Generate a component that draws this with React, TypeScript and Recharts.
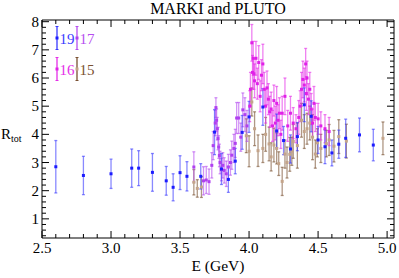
import React from 'react';
import {
  ScatterChart,
  Scatter,
  XAxis,
  YAxis,
  ErrorBar,
  Legend,
} from 'recharts';

// [E (GeV), R, error]
const set19: [number, number, number][] = [
  [2.6, 2.85, 0.93], [2.8, 2.54, 0.68], [3.0, 2.6, 0.52], [3.15, 2.8, 0.68],
  [3.2, 2.8, 0.62], [3.3, 2.65, 0.67], [3.4, 2.35, 0.51], [3.45, 2.12, 0.48],
  [3.5, 2.64, 0.6], [3.55, 2.51, 0.52], [3.65, 2.51, 0.45], [3.75, 4.08, 0.8],
  [3.8, 2.77, 0.55], [3.85, 2.4, 0.46], [3.9, 3.05, 0.45], [3.95, 4.07, 0.6],
  [4.0, 4.62, 0.55], [4.1, 4.97, 0.65], [4.2, 4.12, 0.6], [4.25, 3.78, 0.5],
  [4.3, 3.48, 0.5], [4.35, 3.92, 0.5], [4.4, 5.05, 0.6], [4.45, 4.64, 0.55],
  [4.5, 3.8, 0.48], [4.55, 3.56, 0.6], [4.6, 3.34, 0.46], [4.65, 3.65, 0.5],
  [4.7, 3.86, 0.68], [4.8, 3.98, 0.6], [4.9, 3.62, 0.56],
];

const set17: [number, number, number][] = [
  [3.6, 2.84, 0.54], [3.67, 2.35, 0.5], [3.69, 2.38, 0.48], [3.71, 2.32, 0.45],
  [3.73, 2.9, 0.45], [3.74, 3.6, 0.5], [3.755, 4.4, 0.45], [3.76, 4.95, 0.35],
  [3.765, 4.5, 0.4], [3.77, 4.2, 0.4], [3.775, 3.85, 0.4], [3.78, 3.55, 0.4],
  [3.785, 3.25, 0.4], [3.79, 3.0, 0.4], [3.8, 2.75, 0.4], [3.81, 2.9, 0.45],
  [3.82, 2.72, 0.45], [3.835, 2.6, 0.45], [3.85, 2.84, 0.45], [3.865, 3.0, 0.45],
  [3.875, 3.26, 0.5], [3.89, 3.5, 0.5], [3.9, 3.68, 0.5], [3.91, 4.58, 0.55],
  [3.925, 4.58, 0.55], [3.94, 3.9, 0.5], [3.955, 4.87, 0.6], [3.97, 4.7, 0.6],
  [3.985, 4.3, 0.55],
];

const set16: [number, number, number][] = [
  [4.005, 5.0, 0.55], [4.01, 5.6, 0.6], [4.02, 7.25, 0.65], [4.025, 6.2, 0.6],
  [4.03, 6.7, 0.6], [4.035, 6.15, 0.55], [4.04, 5.9, 0.6], [4.05, 6.7, 0.6],
  [4.06, 5.8, 0.55], [4.07, 6.55, 0.6], [4.08, 5.35, 0.55], [4.09, 6.1, 0.55],
  [4.1, 6.5, 0.7], [4.11, 5.6, 0.6], [4.12, 5.0, 0.6], [4.13, 5.65, 0.6],
  [4.14, 5.25, 0.55], [4.15, 4.8, 0.55], [4.16, 4.9, 0.6], [4.17, 4.3, 0.55],
  [4.18, 5.2, 0.55], [4.19, 4.4, 0.6], [4.2, 5.1, 0.6], [4.21, 4.5, 0.55],
  [4.22, 4.75, 0.55], [4.23, 4.0, 0.5], [4.24, 4.75, 0.6], [4.26, 5.35, 0.65],
  [4.28, 4.3, 0.55], [4.3, 4.75, 0.6], [4.32, 4.4, 0.55], [4.34, 4.2, 0.5],
  [4.36, 4.6, 0.6], [4.37, 5.0, 0.55], [4.38, 5.6, 0.6], [4.39, 5.95, 0.65],
  [4.4, 5.75, 0.6], [4.41, 6.5, 0.55], [4.415, 5.45, 0.6], [4.42, 6.0, 0.6],
  [4.43, 5.25, 0.55], [4.44, 5.6, 0.6], [4.45, 4.9, 0.55], [4.46, 4.4, 0.5],
  [4.47, 5.1, 0.6], [4.48, 4.6, 0.5], [4.5, 4.55, 0.55], [4.52, 4.3, 0.5],
  [4.55, 4.2, 0.5], [4.58, 4.1, 0.5],
];

const set15: [number, number, number][] = [
  [3.6, 2.3, 0.45], [3.625, 2.08, 0.31], [3.655, 2.13, 0.37], [3.98, 3.95, 0.6],
  [4.0, 3.4, 0.55], [4.02, 5.15, 0.5], [4.04, 4.2, 0.6], [4.065, 3.42, 0.56],
  [4.1, 3.5, 0.5], [4.12, 4.0, 0.6], [4.145, 3.66, 0.6], [4.16, 3.2, 0.5],
  [4.18, 3.62, 0.6], [4.2, 3.5, 0.55], [4.215, 2.96, 0.42], [4.24, 2.33, 0.5],
  [4.26, 3.3, 0.5], [4.275, 3.0, 0.55], [4.295, 3.29, 0.6], [4.31, 3.4, 0.5],
  [4.32, 3.75, 0.6], [4.35, 3.6, 0.8], [4.38, 4.5, 0.6], [4.4, 4.1, 0.6],
  [4.42, 4.2, 0.55], [4.44, 4.4, 0.6], [4.46, 3.9, 0.8], [4.48, 3.3, 0.5],
  [4.495, 3.7, 0.5], [4.52, 3.5, 0.5], [4.56, 3.67, 0.47], [4.58, 3.8, 0.55],
  [4.615, 3.58, 0.56], [4.65, 3.92, 0.6], [4.705, 3.76, 0.6], [4.97, 3.86, 0.58],
];

const xMajor = [2.5, 3.0, 3.5, 4.0, 4.5, 5.0];
const yMajor = [1, 2, 3, 4, 5, 6, 7, 8];

const xTicks: number[] = [];
for (let i = 0; i <= 25; i++) xTicks.push(Math.round((2.5 + i * 0.1) * 100) / 100);
const yTicks: number[] = [];
for (let i = 0; i <= 38; i++) yTicks.push(Math.round((0.4 + i * 0.2) * 100) / 100);

const FONT = 'Liberation Serif';
const X_DOMAIN = [2.5, 5.05];
const Y_DOMAIN = [0.32, 8.06];

// brown set is bound to the top/right axes so the mirrored frame gets drawn
const series = [
  { name: '15', data: set15, color: '#7a5132', mark: '#c4a48a', xId: 'top', yId: 'right' },
  { name: '16', data: set16, color: '#e52ee8', mark: '#e020e8', xId: 0, yId: 0 },
  { name: '17', data: set17, color: '#b64ef0', mark: '#b040f0', xId: 0, yId: 0 },
  { name: '19', data: set19, color: '#3a3aff', mark: '#1c1cff', xId: 0, yId: 0 },
];

const toRows = (d: [number, number, number][]) =>
  d.map(([e, r, err]) => ({ e, r, err }));

const isMajor = (v: number, list: number[]) => list.some((m) => Math.abs(m - v) < 1e-6);

const BottomTick = (props: any) => {
  const { x, y, payload } = props;
  const major = isMajor(payload.value, xMajor);
  return (
    <g>
      <line x1={x} y1={y} x2={x} y2={y - (major ? 7 : 4)} stroke="#000" />
      {major && (
        <text x={x} y={y + 15} textAnchor="middle" fontSize={15} fontFamily={FONT} fill="#000">
          {payload.value.toFixed(1)}
        </text>
      )}
    </g>
  );
};

const TopTick = (props: any) => {
  const { x, y, payload } = props;
  const major = isMajor(payload.value, xMajor);
  return <line x1={x} y1={y} x2={x} y2={y + (major ? 7 : 4)} stroke="#000" />;
};

const LeftTick = (props: any) => {
  const { x, y, payload } = props;
  const major = isMajor(payload.value, yMajor);
  return (
    <g>
      <line x1={x} y1={y} x2={x + (major ? 7 : 4)} y2={y} stroke="#000" />
      {major && (
        <text x={x - 3} y={y + 5} textAnchor="end" fontSize={15} fontFamily={FONT} fill="#000">
          {payload.value}
        </text>
      )}
    </g>
  );
};

const RightTick = (props: any) => {
  const { x, y, payload } = props;
  const major = isMajor(payload.value, yMajor);
  return <line x1={x} y1={y} x2={x - (major ? 7 : 4)} y2={y} stroke="#000" />;
};

const square = (fill: string) => (props: any) => (
  <rect x={props.cx - 1.5} y={props.cy - 1.5} width={3} height={3} fill={fill} />
);

const yLabel = () => (
  <text x={1} y={139} fontFamily={FONT} fill="#000">
    <tspan fontSize={15}>R</tspan>
    <tspan fontSize={10} dy={3}>tot</tspan>
  </text>
);

const titleLabel = () => (
  <text x={218} y={14} textAnchor="middle" fontSize={16} fontFamily={FONT} fill="#000">
    MARKI and PLUTO
  </text>
);

const xLabel = () => (
  <text x={218} y={271} textAnchor="middle" fontSize={15.5} fontFamily={FONT} fill="#000">
    E (GeV)
  </text>
);

const legendItems = [
  { name: '19', x: 57, y: 38, color: '#3a3aff', mark: '#1c1cff' },
  { name: '17', x: 77, y: 38, color: '#b64ef0', mark: '#b040f0' },
  { name: '16', x: 57, y: 69, color: '#e52ee8', mark: '#e020e8' },
  { name: '15', x: 77, y: 69, color: '#7a5132', mark: '#c4a48a' },
];

const renderLegend = () => (
  <svg width={110} height={90} style={{ display: 'block' }}>
    {legendItems.map((it) => (
      <g key={it.name}>
        <line x1={it.x} y1={it.y - 11.5} x2={it.x} y2={it.y + 11.5} stroke={it.color} strokeWidth={1.3} />
        <line x1={it.x - 1.5} y1={it.y - 11.5} x2={it.x + 1.5} y2={it.y - 11.5} stroke={it.color} />
        <line x1={it.x - 1.5} y1={it.y + 11.5} x2={it.x + 1.5} y2={it.y + 11.5} stroke={it.color} />
        <rect x={it.x - 1.5} y={it.y - 1.5} width={3} height={3} fill={it.mark} />
        <text x={it.x + 2.5} y={it.y + 5.5} fontSize={15} fontFamily={FONT} fill={it.color}>
          {it.name}
        </text>
      </g>
    ))}
  </svg>
);

export default function App() {
  return (
    <div style={{ position: 'absolute', left: 0, top: 0, background: '#fff' }}>
      <ScatterChart width={399} height={278} margin={{ top: 19, right: 4, bottom: 0, left: 0 }}>
        <XAxis
          dataKey="e"
          type="number"
          domain={X_DOMAIN}
          allowDataOverflow
          ticks={xTicks}
          interval={0}
          tick={<BottomTick />}
          tickLine={false}
          tickSize={0}
          tickMargin={0}
          height={40}
          stroke="#000"
          label={xLabel}
        />
        <XAxis
          xAxisId="top"
          dataKey="e"
          orientation="top"
          type="number"
          domain={X_DOMAIN}
          allowDataOverflow
          ticks={xTicks}
          interval={0}
          tick={<TopTick />}
          tickLine={false}
          tickSize={0}
          tickMargin={0}
          height={1}
          stroke="#000"
          label={titleLabel}
        />
        <YAxis
          dataKey="r"
          type="number"
          domain={Y_DOMAIN}
          allowDataOverflow
          ticks={yTicks}
          interval={0}
          tick={<LeftTick />}
          tickLine={false}
          tickSize={0}
          tickMargin={0}
          width={42}
          stroke="#000"
          label={yLabel}
        />
        <YAxis
          yAxisId="right"
          dataKey="r"
          orientation="right"
          type="number"
          domain={Y_DOMAIN}
          allowDataOverflow
          ticks={yTicks}
          interval={0}
          tick={<RightTick />}
          tickLine={false}
          tickSize={0}
          tickMargin={0}
          width={1}
          stroke="#000"
        />
        <Legend
          layout="vertical"
          align="center"
          verticalAlign="middle"
          content={renderLegend}
          wrapperStyle={{ left: 0, top: 0, width: 110, height: 90 }}
        />
        {series.map((s) => (
          <Scatter
            key={s.name}
            name={s.name}
            data={toRows(s.data)}
            xAxisId={s.xId}
            yAxisId={s.yId}
            fill={s.mark}
            shape={square(s.mark)}
            isAnimationActive={false}
          >
            <ErrorBar
              dataKey="err"
              direction="y"
              width={1.5}
              stroke={s.color}
              strokeWidth={1.3}
              strokeOpacity={0.6}
              isAnimationActive={false}
            />
          </Scatter>
        ))}
      </ScatterChart>
    </div>
  );
}
